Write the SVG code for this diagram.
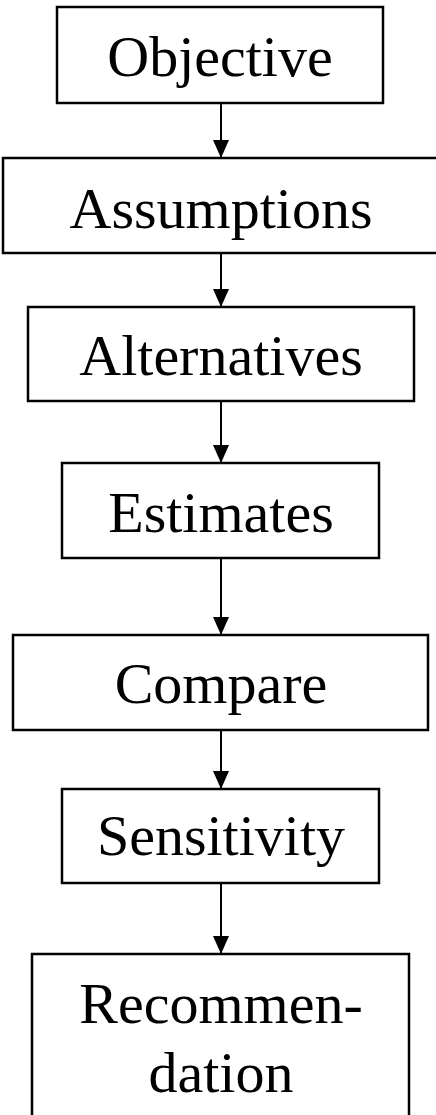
<svg xmlns="http://www.w3.org/2000/svg" width="436" height="1115" viewBox="0 0 436 1115">
  <style>
    .box { fill: #ffffff; stroke: #000000; stroke-width: 2.5; }
    .label { font-family: "Liberation Serif", "Times New Roman", serif; font-size: 58px; fill: #000000; text-anchor: middle; }
    .link { stroke: #000000; stroke-width: 2; fill: none; marker-end: url(#head); }
  </style>
  <defs>
    <marker id="head" markerUnits="userSpaceOnUse" markerWidth="18" markerHeight="16" viewBox="0 -8 18 16" refX="18" refY="0" orient="auto">
      <path d="M0,-8 L18,0 L0,8 z" fill="#000000"/>
    </marker>
  </defs>
  <rect width="436" height="1115" fill="#ffffff"/>

  <g id="connectors">
    <line class="link" x1="221" y1="103" x2="221" y2="158"/>
    <line class="link" x1="221" y1="253" x2="221" y2="307"/>
    <line class="link" x1="221" y1="401" x2="221" y2="463"/>
    <line class="link" x1="221" y1="558" x2="221" y2="635"/>
    <line class="link" x1="221" y1="730" x2="221" y2="789"/>
    <line class="link" x1="221" y1="883" x2="221" y2="954"/>
  </g>

  <g id="objective">
    <rect class="box" x="57" y="7" width="326" height="96"/>
    <text class="label" x="220" y="76">Objective</text>
  </g>
  <g id="assumptions">
    <rect class="box" x="3" y="158" width="450" height="95"/>
    <text class="label" x="221" y="228">Assumptions</text>
  </g>
  <g id="alternatives">
    <rect class="box" x="28" y="307" width="386" height="94"/>
    <text class="label" x="221" y="375">Alternatives</text>
  </g>
  <g id="estimates">
    <rect class="box" x="62" y="463" width="317" height="95"/>
    <text class="label" x="221" y="532">Estimates</text>
  </g>
  <g id="compare">
    <rect class="box" x="13" y="635" width="415" height="95"/>
    <text class="label" x="221" y="703">Compare</text>
  </g>
  <g id="sensitivity">
    <rect class="box" x="62" y="789" width="317" height="94"/>
    <text class="label" x="221" y="855">Sensitivity</text>
  </g>
  <g id="recommendation">
    <rect class="box" x="32" y="954" width="377" height="190"/>
    <text class="label" x="221" y="1023">Recommen-</text>
    <text class="label" x="221" y="1092">dation</text>
  </g>
</svg>
